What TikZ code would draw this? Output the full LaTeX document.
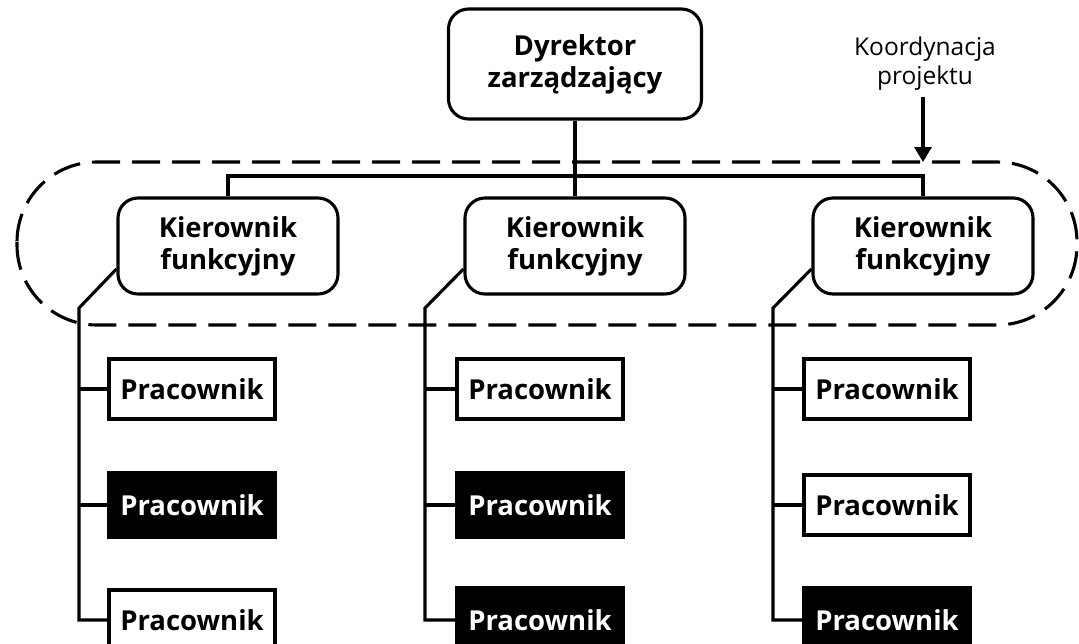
\documentclass[tikz,border=0pt]{standalone}
\usepackage{fontspec}
\setmainfont{Open Sans}
\usetikzlibrary{arrows.meta}
\tikzset{
  boxtext/.style={font=\fontsize{27.5}{32}\selectfont\bfseries, align=center, inner sep=0pt},
  dirbox/.style={boxtext, draw, line width=3.1pt, rounded corners=20pt, minimum width=253pt, minimum height=110pt},
  mgrbox/.style={boxtext, draw, line width=3.1pt, rounded corners=20pt, minimum width=220pt, minimum height=96pt},
  workw/.style={boxtext, draw, line width=3.1pt, fill=white, minimum width=166pt, minimum height=60pt},
  workb/.style={boxtext, draw, line width=3.1pt, fill=black, text=white, minimum width=166pt, minimum height=64pt},
  conn/.style={line width=3.1pt},
  coord/.style={line width=3.1pt, dash pattern=on 28pt off 12pt},
  lbl/.style={font=\fontsize{24.5}{29}\selectfont, align=center, inner sep=0pt}
}
\begin{document}
\begin{tikzpicture}[x=1pt,y=-1pt]
\clip (0,0) rectangle (1079,643);
\fill[white] (0,0) rectangle (1079,643);

% dashed coordination outline
\draw[coord, rounded corners=80pt] (17,162) rectangle (1077,325);

% director
\node[dirbox] (dir) at (575,64) {Dyrektor\\zarządzający};

% managers
\node[mgrbox] (m1) at (228,246) {Kierownik\\funkcyjny};
\node[mgrbox] (m2) at (575,246) {Kierownik\\funkcyjny};
\node[mgrbox] (m3) at (923,246) {Kierownik\\funkcyjny};

% bus
\coordinate (bus) at (575,176);
\draw[conn] (dir.south) -- (m2.north);
\draw[conn] (m1.north) -- (m1.north |- bus) -- (m3.north |- bus) -- (m3.north);

% label and arrow
\node[lbl] (koord) at (925,64) {Koordynacja\\projektu};
\coordinate (tip) at (923,162);
\draw[conn, -{Triangle[length=15pt,width=17pt]}] (923,97) -- (tip);

% workers
\node[workw] (p11) at (192,389) {Pracownik};
\node[workb] (p12) at (192,505) {Pracownik};
\node[workw] (p13) at (192,620) {Pracownik};
\node[workw] (p21) at (540,389) {Pracownik};
\node[workb] (p22) at (540,505) {Pracownik};
\node[workb] (p23) at (540,620) {Pracownik};
\node[workw] (p31) at (887,389) {Pracownik};
\node[workw] (p32) at (887,505) {Pracownik};
\node[workb] (p33) at (887,620) {Pracownik};

% trunks
\coordinate (t1) at (79,308);
\coordinate (t2) at (425,308);
\coordinate (t3) at (773,308);
\foreach \i in {1,2,3}{
  \draw[conn] ([yshift=-23pt]m\i.west) -- (t\i) -- (t\i |- p\i3.west) -- (p\i3.west);
  \draw[conn] (t\i |- p\i1.west) -- (p\i1.west);
  \draw[conn] (t\i |- p\i2.west) -- (p\i2.west);
}
\end{tikzpicture}
\end{document}
